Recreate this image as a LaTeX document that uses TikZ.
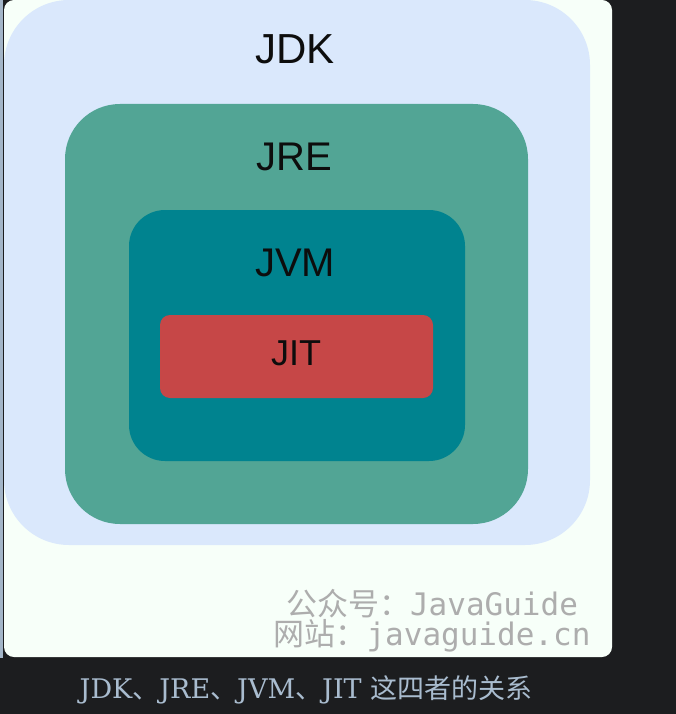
\documentclass[tikz,border=0pt]{standalone}
\usepackage{fontspec}
\setmainfont{Liberation Sans}
\newfontfamily\cjk{Noto Sans CJK SC}
\newfontfamily\wmmono{DejaVu Sans Mono}
\newfontfamily\capserif{DejaVu Serif}

\definecolor{pagebg}{HTML}{1C1D1F}
\definecolor{stripcol}{HTML}{A3B5C8}
\definecolor{cardcol}{HTML}{F7FFF9}
\definecolor{jdkcol}{HTML}{DAE8FC}
\definecolor{jrecol}{HTML}{52A595}
\definecolor{jvmcol}{HTML}{00838F}
\definecolor{jitcol}{HTML}{C64747}
\definecolor{wmcol}{HTML}{ADADAD}
\definecolor{capcol}{HTML}{A9BCCF}

\tikzset{
  layerbox/.style={rectangle, draw=none, inner sep=0pt},
  layertext/.style={text=black!95, inner sep=0pt, anchor=center}
}

\begin{document}
\begin{tikzpicture}[x=1pt, y=-1pt]
    % Page background and frame
    \fill[pagebg] (0,0) rectangle (676,714);
    \useasboundingbox (0,0) rectangle (676,714);
    \fill[stripcol] (0,0) rectangle (3,658);
    \fill[cardcol, rounded corners=10pt] (4,0) rectangle (612,657);

    % Nested layers
    \node[layerbox, fill=jdkcol, rounded corners=65pt, minimum width=586pt, minimum height=545pt] (jdk) at (297,272.5) {};
    \node[layerbox, fill=jrecol, rounded corners=55pt, minimum width=463pt, minimum height=420pt] (jre) at (296.5,314) {};
    \node[layerbox, fill=jvmcol, rounded corners=36pt, minimum width=336pt, minimum height=251pt] (jvm) at (297,335.5) {};
    \node[layerbox, fill=jitcol, rounded corners=10pt, minimum width=273pt, minimum height=83pt] (jit) at (296.5,356.5) {};

    % Layer names
    \node[layertext] (jdkname) at (295,49) {\fontsize{42}{42}\selectfont JDK};
    \node[layertext] (jrename) at (294,157) {\fontsize{40}{40}\selectfont JRE};
    \node[layertext] (jvmname) at (295,263) {\fontsize{40}{40}\selectfont JVM};
    \node[layertext] (jitname) at (296,353) {\fontsize{36}{36}\selectfont JIT};

    % Watermark
    \node[text=wmcol, anchor=base, inner sep=0pt] (wmone) at (432,615)
        {\fontsize{31}{31}\selectfont{\cjk 公众号：}{\wmmono JavaGuide}};
    \node[text=wmcol, anchor=base, inner sep=0pt] (wmtwo) at (432,645)
        {\fontsize{31}{31}\selectfont{\cjk 网站：}{\wmmono javaguide.cn}};

    % Caption
    \node[text=capcol, anchor=base, inner sep=0pt] (caption) at (306,698)
        {\fontsize{27}{27}\selectfont{\capserif JDK}{\cjk 、}{\capserif JRE}{\cjk 、}{\capserif JVM}{\cjk 、}{\capserif JIT }{\cjk 这四者的关系}};
\end{tikzpicture}
\end{document}
